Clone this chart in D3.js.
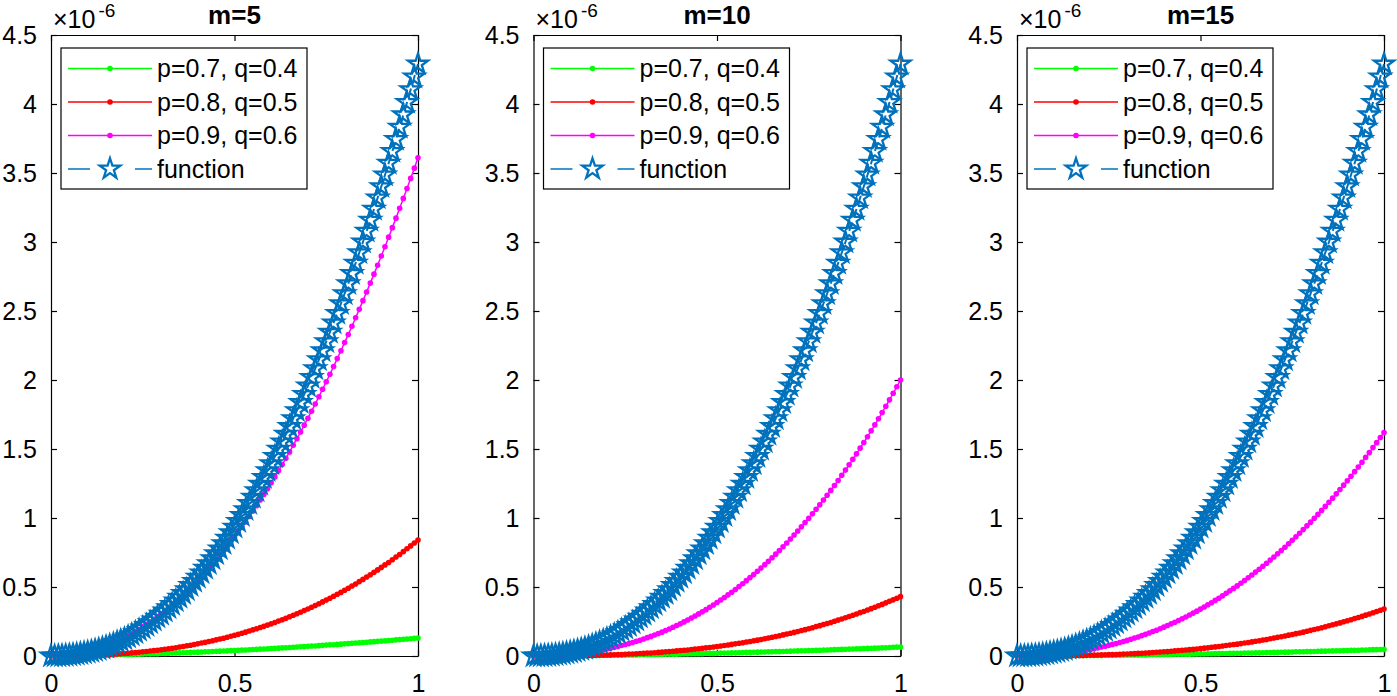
<!DOCTYPE html>
<html>
<head>
<meta charset="utf-8">
<script src="https://cdn.jsdelivr.net/npm/d3@7"></script>
<style>
  body { margin: 0; background: #fff; }
  svg { display: block; }
  text { font-family: "Liberation Sans", Arial, Helvetica, sans-serif; }
</style>
</head>
<body>
<div id="chart"></div>
<script>
// sample grid (x) and series values, all y values in units of 1e-6
const xs = [0,0.01,0.02,0.03,0.04,0.05,0.06,0.07,0.08,0.09,
  0.1,0.11,0.12,0.13,0.14,0.15,0.16,0.17,0.18,0.19,
  0.2,0.21,0.22,0.23,0.24,0.25,0.26,0.27,0.28,0.29,
  0.3,0.31,0.32,0.33,0.34,0.35,0.36,0.37,0.38,0.39,
  0.4,0.41,0.42,0.43,0.44,0.45,0.46,0.47,0.48,0.49,
  0.5,0.51,0.52,0.53,0.54,0.55,0.56,0.57,0.58,0.59,
  0.6,0.61,0.62,0.63,0.64,0.65,0.66,0.67,0.68,0.69,
  0.7,0.71,0.72,0.73,0.74,0.75,0.76,0.77,0.78,0.79,
  0.8,0.81,0.82,0.83,0.84,0.85,0.86,0.87,0.88,0.89,
  0.9,0.91,0.92,0.93,0.94,0.95,0.96,0.97,0.98,0.99,1];

// "function" (same curve in every panel)
const exactVals = [0,0.000,0.001,0.002,0.004,0.006,0.009,0.012,0.017,0.021,
  0.027,0.033,0.040,0.048,0.057,0.066,0.076,0.087,0.099,0.111,
  0.124,0.138,0.153,0.169,0.186,0.203,0.222,0.241,0.261,0.282,
  0.303,0.326,0.350,0.374,0.400,0.426,0.453,0.481,0.511,0.541,
  0.571,0.603,0.636,0.670,0.705,0.741,0.777,0.815,0.854,0.893,
  0.934,0.975,1.018,1.061,1.106,1.151,1.198,1.246,1.294,1.344,
  1.394,1.446,1.499,1.552,1.607,1.663,1.720,1.778,1.837,1.896,
  1.957,2.019,2.082,2.147,2.212,2.278,2.346,2.414,2.483,2.554,
  2.626,2.699,2.772,2.847,2.923,3.000,3.079,3.158,3.238,3.320,
  3.402,3.486,3.571,3.657,3.744,3.832,3.922,4.012,4.104,4.196,
  4.290];

// m=5
const green5 = [0,0.000,0.001,0.001,0.001,0.002,0.002,0.003,0.003,0.004,
  0.004,0.005,0.005,0.006,0.006,0.007,0.007,0.008,0.009,0.009,
  0.010,0.011,0.011,0.012,0.013,0.014,0.015,0.015,0.016,0.017,
  0.018,0.019,0.020,0.021,0.022,0.023,0.024,0.025,0.026,0.027,
  0.028,0.029,0.030,0.031,0.033,0.034,0.035,0.036,0.037,0.039,
  0.040,0.041,0.043,0.044,0.045,0.047,0.048,0.050,0.051,0.053,
  0.054,0.056,0.057,0.059,0.060,0.062,0.063,0.065,0.067,0.068,
  0.070,0.072,0.073,0.075,0.077,0.079,0.081,0.082,0.084,0.086,
  0.088,0.090,0.092,0.094,0.096,0.098,0.100,0.102,0.104,0.106,
  0.108,0.110,0.112,0.114,0.117,0.119,0.121,0.123,0.125,0.128,
  0.130];
const red5 = [0,0.000,0.000,0.000,0.001,0.001,0.001,0.002,0.003,0.003,
  0.004,0.005,0.006,0.007,0.008,0.010,0.011,0.013,0.014,0.016,
  0.018,0.020,0.023,0.025,0.027,0.030,0.033,0.036,0.039,0.042,
  0.045,0.049,0.053,0.056,0.060,0.065,0.069,0.074,0.078,0.083,
  0.088,0.094,0.099,0.105,0.111,0.117,0.123,0.129,0.136,0.143,
  0.150,0.157,0.165,0.173,0.181,0.189,0.197,0.206,0.215,0.224,
  0.233,0.243,0.253,0.263,0.273,0.284,0.295,0.306,0.317,0.329,
  0.341,0.353,0.366,0.379,0.392,0.405,0.419,0.433,0.447,0.461,
  0.476,0.491,0.507,0.522,0.539,0.555,0.572,0.589,0.606,0.624,
  0.642,0.660,0.678,0.697,0.717,0.736,0.756,0.777,0.798,0.819,
  0.840];
const magenta5 = [0,0.000,0.001,0.003,0.005,0.008,0.012,0.016,0.021,0.027,
  0.033,0.040,0.048,0.056,0.066,0.075,0.086,0.097,0.109,0.121,
  0.134,0.148,0.163,0.178,0.194,0.211,0.229,0.247,0.266,0.285,
  0.305,0.326,0.348,0.371,0.394,0.418,0.442,0.467,0.494,0.520,
  0.548,0.576,0.605,0.635,0.665,0.697,0.728,0.761,0.795,0.829,
  0.864,0.899,0.936,0.973,1.011,1.050,1.089,1.130,1.171,1.212,
  1.255,1.298,1.342,1.387,1.433,1.479,1.527,1.575,1.623,1.673,
  1.723,1.774,1.826,1.879,1.933,1.987,2.042,2.098,2.155,2.212,
  2.271,2.330,2.390,2.451,2.512,2.575,2.638,2.702,2.767,2.832,
  2.899,2.966,3.035,3.104,3.173,3.244,3.316,3.388,3.461,3.535,
  3.610];

// m=10
const green10 = [0,0.000,0.000,0.000,0.001,0.001,0.001,0.001,0.002,0.002,
  0.002,0.002,0.003,0.003,0.003,0.003,0.004,0.004,0.004,0.005,
  0.005,0.005,0.006,0.006,0.006,0.007,0.007,0.008,0.008,0.009,
  0.009,0.009,0.010,0.010,0.011,0.011,0.012,0.012,0.013,0.013,
  0.014,0.015,0.015,0.016,0.016,0.017,0.017,0.018,0.019,0.019,
  0.020,0.021,0.021,0.022,0.023,0.023,0.024,0.025,0.026,0.026,
  0.027,0.028,0.029,0.029,0.030,0.031,0.032,0.032,0.033,0.034,
  0.035,0.036,0.037,0.038,0.038,0.039,0.040,0.041,0.042,0.043,
  0.044,0.045,0.046,0.047,0.048,0.049,0.050,0.051,0.052,0.053,
  0.054,0.055,0.056,0.057,0.058,0.059,0.060,0.062,0.063,0.064,
  0.065];
const red10 = [0,0.000,0.000,0.000,0.000,0.000,0.000,0.001,0.001,0.001,
  0.002,0.002,0.002,0.003,0.003,0.004,0.004,0.005,0.006,0.006,
  0.007,0.008,0.009,0.010,0.011,0.012,0.014,0.015,0.016,0.018,
  0.019,0.021,0.022,0.024,0.026,0.028,0.030,0.032,0.034,0.037,
  0.039,0.042,0.044,0.047,0.050,0.053,0.056,0.059,0.062,0.065,
  0.069,0.072,0.076,0.080,0.084,0.088,0.092,0.096,0.101,0.105,
  0.110,0.115,0.120,0.125,0.130,0.136,0.141,0.147,0.153,0.159,
  0.165,0.171,0.178,0.185,0.191,0.198,0.205,0.213,0.220,0.228,
  0.236,0.243,0.252,0.260,0.268,0.277,0.286,0.295,0.304,0.314,
  0.323,0.333,0.343,0.353,0.364,0.374,0.385,0.396,0.407,0.418,
  0.430];
const magenta10 = [0,0.000,0.000,0.001,0.002,0.003,0.004,0.006,0.008,0.010,
  0.012,0.015,0.017,0.021,0.024,0.028,0.032,0.036,0.041,0.046,
  0.051,0.057,0.063,0.069,0.076,0.083,0.090,0.098,0.106,0.114,
  0.123,0.133,0.142,0.152,0.163,0.173,0.185,0.196,0.208,0.221,
  0.234,0.247,0.261,0.275,0.290,0.305,0.320,0.336,0.353,0.370,
  0.388,0.406,0.424,0.443,0.462,0.482,0.503,0.524,0.546,0.568,
  0.590,0.614,0.637,0.662,0.686,0.712,0.738,0.764,0.792,0.819,
  0.848,0.877,0.906,0.936,0.967,0.998,1.030,1.063,1.096,1.130,
  1.165,1.200,1.236,1.272,1.310,1.347,1.386,1.425,1.465,1.506,
  1.547,1.589,1.632,1.675,1.719,1.764,1.810,1.856,1.904,1.951,
  2.000];

// m=15
const green15 = [0,0.000,0.000,0.000,0.001,0.001,0.001,0.001,0.001,0.001,
  0.001,0.002,0.002,0.002,0.002,0.002,0.003,0.003,0.003,0.003,
  0.004,0.004,0.004,0.004,0.005,0.005,0.005,0.006,0.006,0.006,
  0.007,0.007,0.007,0.008,0.008,0.008,0.009,0.009,0.010,0.010,
  0.010,0.011,0.011,0.012,0.012,0.012,0.013,0.013,0.014,0.014,
  0.015,0.015,0.016,0.016,0.017,0.017,0.018,0.018,0.019,0.019,
  0.020,0.020,0.021,0.022,0.022,0.023,0.023,0.024,0.025,0.025,
  0.026,0.026,0.027,0.028,0.028,0.029,0.030,0.030,0.031,0.032,
  0.032,0.033,0.034,0.035,0.035,0.036,0.037,0.038,0.038,0.039,
  0.040,0.041,0.041,0.042,0.043,0.044,0.045,0.046,0.046,0.047,
  0.048];
const red15 = [0,0.000,0.000,0.000,0.000,0.000,0.000,0.001,0.001,0.001,
  0.001,0.001,0.002,0.002,0.002,0.003,0.003,0.004,0.004,0.005,
  0.006,0.006,0.007,0.008,0.009,0.010,0.010,0.011,0.013,0.014,
  0.015,0.016,0.017,0.019,0.020,0.022,0.023,0.025,0.027,0.029,
  0.030,0.032,0.034,0.037,0.039,0.041,0.043,0.046,0.048,0.051,
  0.054,0.057,0.059,0.063,0.066,0.069,0.072,0.076,0.079,0.083,
  0.086,0.090,0.094,0.098,0.102,0.107,0.111,0.116,0.120,0.125,
  0.130,0.135,0.140,0.145,0.151,0.156,0.162,0.167,0.173,0.179,
  0.186,0.192,0.198,0.205,0.212,0.219,0.226,0.233,0.240,0.248,
  0.255,0.263,0.271,0.279,0.287,0.296,0.304,0.313,0.322,0.331,
  0.340];
const magenta15 = [0,0.000,0.000,0.001,0.002,0.003,0.004,0.006,0.007,0.009,
  0.012,0.014,0.017,0.020,0.023,0.027,0.030,0.034,0.039,0.043,
  0.048,0.053,0.059,0.065,0.071,0.077,0.084,0.090,0.098,0.105,
  0.113,0.121,0.130,0.138,0.148,0.157,0.167,0.177,0.187,0.198,
  0.209,0.221,0.233,0.245,0.257,0.270,0.283,0.297,0.311,0.325,
  0.340,0.355,0.371,0.386,0.403,0.419,0.436,0.454,0.472,0.490,
  0.508,0.527,0.547,0.567,0.587,0.608,0.629,0.650,0.672,0.695,
  0.717,0.741,0.764,0.788,0.813,0.838,0.864,0.890,0.916,0.943,
  0.970,0.998,1.026,1.055,1.084,1.114,1.144,1.175,1.206,1.238,
  1.270,1.303,1.336,1.370,1.404,1.439,1.474,1.510,1.546,1.583,
  1.620];

const titles = ["m=5", "m=10", "m=15"];
const labels = ["p=0.7, q=0.4", "p=0.8, q=0.5", "p=0.9, q=0.6", "function"];
const yTicks = [0, 0.5, 1, 1.5, 2, 2.5, 3, 3.5, 4, 4.5];
const xTicks = [0, 0.5, 1];

const panels = [
    { title: titles[0], series: [green5, red5, magenta5, exactVals] },
    { title: titles[1], series: [green10, red10, magenta10, exactVals] },
    { title: titles[2], series: [green15, red15, magenta15, exactVals] }
];

// styles
const COLORS = ["#00ff00", "#ff0000", "#ff00ff", "#0072bd"];
const FONT = 25;
const WIDTH = 1397, HEIGHT = 696;
const PANEL_LEFT = [51, 533.5, 1017];
const PANEL_W = 367;
const TOP = 35, BOTTOM = 656;
const TICK = 6;

var svg = d3.select("#chart")
    .append("svg")
    .attr("width", WIDTH)
    .attr("height", HEIGHT);

// pentagram marker, outer radius ~10.5px
var star = d3.symbol().type(d3.symbolStar).size(124);
var starLegend = d3.symbol().type(d3.symbolStar).size(130);

panels.forEach((p, k) => {
    let left = PANEL_LEFT[k];
    let x = d3.scaleLinear().domain([0, 1]).range([left, left + PANEL_W]);
    let y = d3.scaleLinear().domain([0, 4.5]).range([BOTTOM, TOP]);

    let g = svg.append("g");

    // axes (ticks point inward, box on)
    let axL = g.append("g").attr("transform", "translate(" + left + ",0)")
        .call(d3.axisLeft(y).tickValues(yTicks).tickSize(-TICK).tickSizeOuter(0)
            .tickPadding(14).tickFormat(d => String(d)));
    let axR = g.append("g").attr("transform", "translate(" + (left + PANEL_W) + ",0)")
        .call(d3.axisRight(y).tickValues(yTicks).tickSize(-TICK).tickSizeOuter(0).tickFormat(""));
    let axB = g.append("g").attr("transform", "translate(0," + BOTTOM + ")")
        .call(d3.axisBottom(x).tickValues(xTicks).tickSize(-TICK).tickSizeOuter(0)
            .tickPadding(18).tickFormat(d => String(d)));
    let axT = g.append("g").attr("transform", "translate(0," + TOP + ")")
        .call(d3.axisTop(x).tickValues(xTicks).tickSize(-TICK).tickSizeOuter(0).tickFormat(""));

    [axL, axR, axB, axT].forEach(a => {
        a.attr("font-family", null).attr("font-size", null);
        a.selectAll("path.domain").attr("stroke", "#000").attr("stroke-width", 1.2);
        a.selectAll(".tick line").attr("stroke", "#000").attr("stroke-width", 1.2);
        a.selectAll(".tick text").attr("fill", "#000").style("font-size", FONT + "px");
    });

    // title
    g.append("text")
        .attr("x", left + PANEL_W / 2)
        .attr("y", 24)
        .attr("text-anchor", "middle")
        .style("font-size", "26px")
        .style("font-weight", "bold")
        .text(p.title);

    // exponent label
    let ex = g.append("text")
        .attr("x", left + 2)
        .attr("y", 28)
        .style("font-size", FONT + "px")
        .text("\u00d710");
    ex.append("tspan")
        .attr("dx", 3)
        .attr("dy", -11)
        .style("font-size", "19px")
        .text("-6");

    // curves
    let line = d3.line()
        .x((d, i) => x(xs[i]))
        .y(d => y(d));

    p.series.forEach((vals, s) => {
        if (s < 3) {
            g.append("path")
                .datum(vals)
                .attr("d", line)
                .attr("fill", "none")
                .attr("stroke", COLORS[s])
                .attr("stroke-width", 1.5);
            g.selectAll(".dot" + s)
                .data(vals)
                .enter()
                .append("circle")
                .attr("class", "dot" + s)
                .attr("cx", (d, i) => x(xs[i]))
                .attr("cy", d => y(d))
                .attr("r", 2.8)
                .attr("fill", COLORS[s]);
        } else {
            g.append("path")
                .datum(vals)
                .attr("d", line)
                .attr("fill", "none")
                .attr("stroke", COLORS[s])
                .attr("stroke-width", 2)
                .attr("stroke-dasharray", "9,5");
            g.selectAll(".star")
                .data(vals)
                .enter()
                .append("path")
                .attr("class", "star")
                .attr("d", star)
                .attr("transform", (d, i) => "translate(" + x(xs[i]) + "," + y(d) + ")")
                .attr("fill", "none")
                .attr("stroke", COLORS[s])
                .attr("stroke-width", 2.3);
        }
    });

    // legend
    let lg = g.append("g").attr("transform", "translate(" + (left + 10) + ",48)");
    lg.append("rect")
        .attr("width", 246)
        .attr("height", 141)
        .attr("fill", "#fff")
        .attr("stroke", "#000")
        .attr("stroke-width", 1.2);
    labels.forEach((lab, i) => {
        let cy = 20.5 + i * 33.5;
        let row = lg.append("g").attr("transform", "translate(0," + cy + ")");
        if (i < 3) {
            row.append("line")
                .attr("x1", 7).attr("x2", 91)
                .attr("y1", 0).attr("y2", 0)
                .attr("stroke", COLORS[i])
                .attr("stroke-width", 1.5);
            row.append("circle")
                .attr("cx", 49).attr("cy", 0).attr("r", 2.8)
                .attr("fill", COLORS[i]);
        } else {
            row.append("line")
                .attr("x1", 7).attr("x2", 29)
                .attr("y1", 0).attr("y2", 0)
                .attr("stroke", COLORS[3]).attr("stroke-width", 1.5);
            row.append("line")
                .attr("x1", 74).attr("x2", 91)
                .attr("y1", 0).attr("y2", 0)
                .attr("stroke", COLORS[3]).attr("stroke-width", 1.5);
            row.append("path")
                .attr("d", starLegend)
                .attr("transform", "translate(49,0)")
                .attr("fill", "none")
                .attr("stroke", COLORS[3])
                .attr("stroke-width", 2.3);
        }
        row.append("text")
            .attr("x", 96)
            .attr("y", 0)
            .attr("dy", "0.35em")
            .style("font-size", FONT + "px")
            .text(lab);
    });
});
</script>
</body>
</html>
